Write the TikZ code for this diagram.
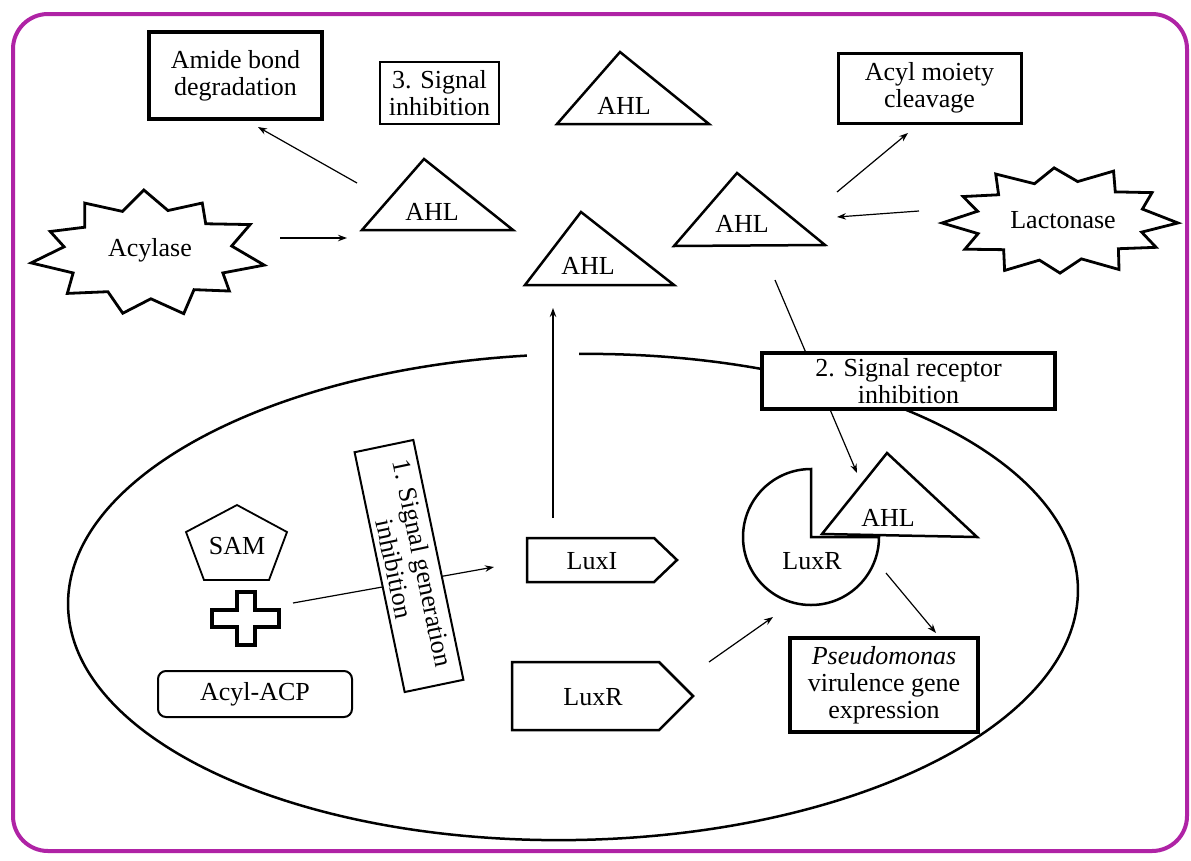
\documentclass[tikz,border=0pt]{standalone}
\usepackage{fontspec}
\setmainfont{Liberation Serif}
\usetikzlibrary{arrows.meta}
\definecolor{framec}{RGB}{175,35,165}
\begin{document}
\begin{tikzpicture}[x=1pt,y=-1pt,
  txt/.style={font=\fontsize{26}{27}\selectfont, align=center, inner sep=0pt},
  thickbox/.style={draw, line width=3.5pt, fill=white, txt},
  thinbox/.style={draw, line width=2pt, fill=white, txt},
  shapeline/.style={line width=2.5pt, line join=miter},
  starline/.style={line width=2.8pt, line join=miter, miter limit=4, fill=white},
  conn/.style={line width=1.2pt, -{Stealth[length=9pt,width=6.5pt]}},
]
\useasboundingbox (0,0) rectangle (1191,860);
% frame
\draw[framec, line width=4pt, rounded corners=35pt] (13,14) rectangle (1187,851);
% cell membrane
\draw[line width=2.5pt, rotate around={1:(573,597)}] (573,597) ellipse [x radius=505, y radius=243];
\fill[white] (527,340) rectangle (579,374);

% named coordinates for connector ends
\coordinate (luxIup) at (553,518);
\coordinate (ahlMb) at (553,308);
\coordinate (ahlLtl) at (357,183);
\coordinate (amideIn) at (258,127);
\coordinate (acylOut) at (280,238);
\coordinate (ahlLin) at (347,238);
\coordinate (ahlRtr) at (837,192);
\coordinate (moietyIn) at (908,133);
\coordinate (lactOut) at (919,211);
\coordinate (ahlRin) at (837,217);
\coordinate (ahlRb) at (775,280);
\coordinate (boundIn) at (857,473);
\coordinate (plusOut) at (293,603);
\coordinate (luxIin) at (494,567);
\coordinate (luxROut) at (709,662);
\coordinate (recIn) at (773,617);
\coordinate (recOut) at (886,573);
\coordinate (pseuIn) at (936,633);

% connectors
\draw[conn] (luxIup) -- (ahlMb);
\draw[conn] (ahlLtl) -- (amideIn);
\draw[conn] (acylOut) -- (ahlLin);
\draw[conn] (ahlRtr) -- (moietyIn);
\draw[conn] (lactOut) -- (ahlRin);
\draw[conn] (ahlRb) -- (boundIn);
\draw[conn] (plusOut) -- (luxIin);
\draw[conn] (luxROut) -- (recIn);
\draw[conn] (recOut) -- (pseuIn);

% boxes
\node[thickbox, minimum width=173pt, minimum height=87pt] (amide) at (235.5,75.5) {Amide bond\\degradation};
\node[thinbox, minimum width=119pt, minimum height=62pt] (sig3) at (439.5,93) {3. Signal\\inhibition};
\node[thickbox, line width=3pt, minimum width=183pt, minimum height=70pt] (moiety) at (929.5,88) {Acyl moiety\\cleavage};
\node[thickbox, minimum width=293pt, minimum height=56pt] (sig2) at (908.5,381) {2. Signal receptor\\inhibition};
\node[thickbox, line width=4pt, minimum width=188pt, minimum height=94pt] (pseu) at (884,685) {{\itshape Pseudomonas}\\virulence gene\\expression};
\node[draw, line width=2pt, rounded corners=8pt, fill=white, txt, minimum width=194pt, minimum height=46pt] (acp) at (255,694) {Acyl-ACP};
\node[thinbox, rotate=-78.2, minimum width=245pt, minimum height=60pt] (sig1) at (409,566) {1. Signal generation\\[2pt]inhibition};

% AHL triangles
\draw[shapeline] (557,124) -- (620,52) -- (709,124) -- cycle;
\node[txt] (ahlT) at (624,106) {AHL};
\draw[shapeline] (362,230) -- (424,159) -- (513,230) -- cycle;
\node[txt] (ahlL) at (432,212) {AHL};
\draw[shapeline] (525,285) -- (581,212) -- (674,285) -- cycle;
\node[txt] (ahlM) at (588,266) {AHL};
\draw[shapeline] (674,246) -- (737,173) -- (825,245) -- cycle;
\node[txt] (ahlR) at (742,224) {AHL};

% LuxI and LuxR
\draw[shapeline] (527,538) -- (654,538) -- (677,560) -- (654,582) -- (527,582) -- cycle;
\node[txt] (luxI) at (592,561) {LuxI};
\draw[shapeline] (512,662) -- (659,662) -- (693,696) -- (659,730) -- (512,730) -- cycle;
\node[txt] (luxRg) at (593,697) {LuxR};

% receptor
\draw[shapeline] (879,537) arc[start angle=0, end angle=270, radius=68] -- (811,537) -- cycle;
\node[txt] (luxR) at (812,561) {LuxR};
\draw[shapeline, fill=white] (822,534) -- (887,453) -- (977,537) -- cycle;
\node[txt] (ahlB) at (888,518) {AHL};

% SAM and plus
\draw[line width=1.8pt, line join=miter] (237,505) -- (287,532) -- (269,580) -- (204,580) -- (186,532) -- cycle;
\node[txt] (sam) at (237,546) {SAM};
\draw[line width=3.5pt, line join=miter] (237,592) -- (255,592) -- (255,610) -- (279,610) -- (279,627) -- (255,627) -- (255,645) -- (237,645) -- (237,627) -- (212,627) -- (212,610) -- (237,610) -- cycle;
\coordinate (plus) at (246,619);

% stars
\draw[starline, shift={(148,254)}, x=118pt, y=-64pt] (10:1)
  \foreach \a/\r in {25/0.7, 40/0.9, 55/0.68, 72/0.98, 88/0.7, 103/0.95, 120/0.68, 138/0.92, 155/0.7, 172/1.0, 189/0.72, 203/0.9, 218/0.68, 236/0.96, 252/0.7, 268/1.0, 284/0.7, 300/0.92, 316/0.68, 332/0.98, 350/0.72} { -- (\a:\r) } -- cycle;
\node[txt] (acylase) at (150,250) {Acylase};
\draw[starline, shift={(1060,221)}, x=118pt, y=-56pt] (2:1)
  \foreach \a/\r in {16/0.72, 30/0.94, 45/0.7, 60/1.0, 75/0.7, 90/0.93, 104/0.72, 118/1.0, 133/0.7, 148/0.95, 162/0.73, 178/1.0, 194/0.72, 208/0.93, 222/0.7, 237/1.0, 252/0.7, 267/0.95, 282/0.72, 297/1.0, 312/0.7, 327/0.93, 343/0.73} { -- (\a:\r) } -- cycle;
\node[txt] (lact) at (1063,220) {Lactonase};
\end{tikzpicture}
\end{document}
